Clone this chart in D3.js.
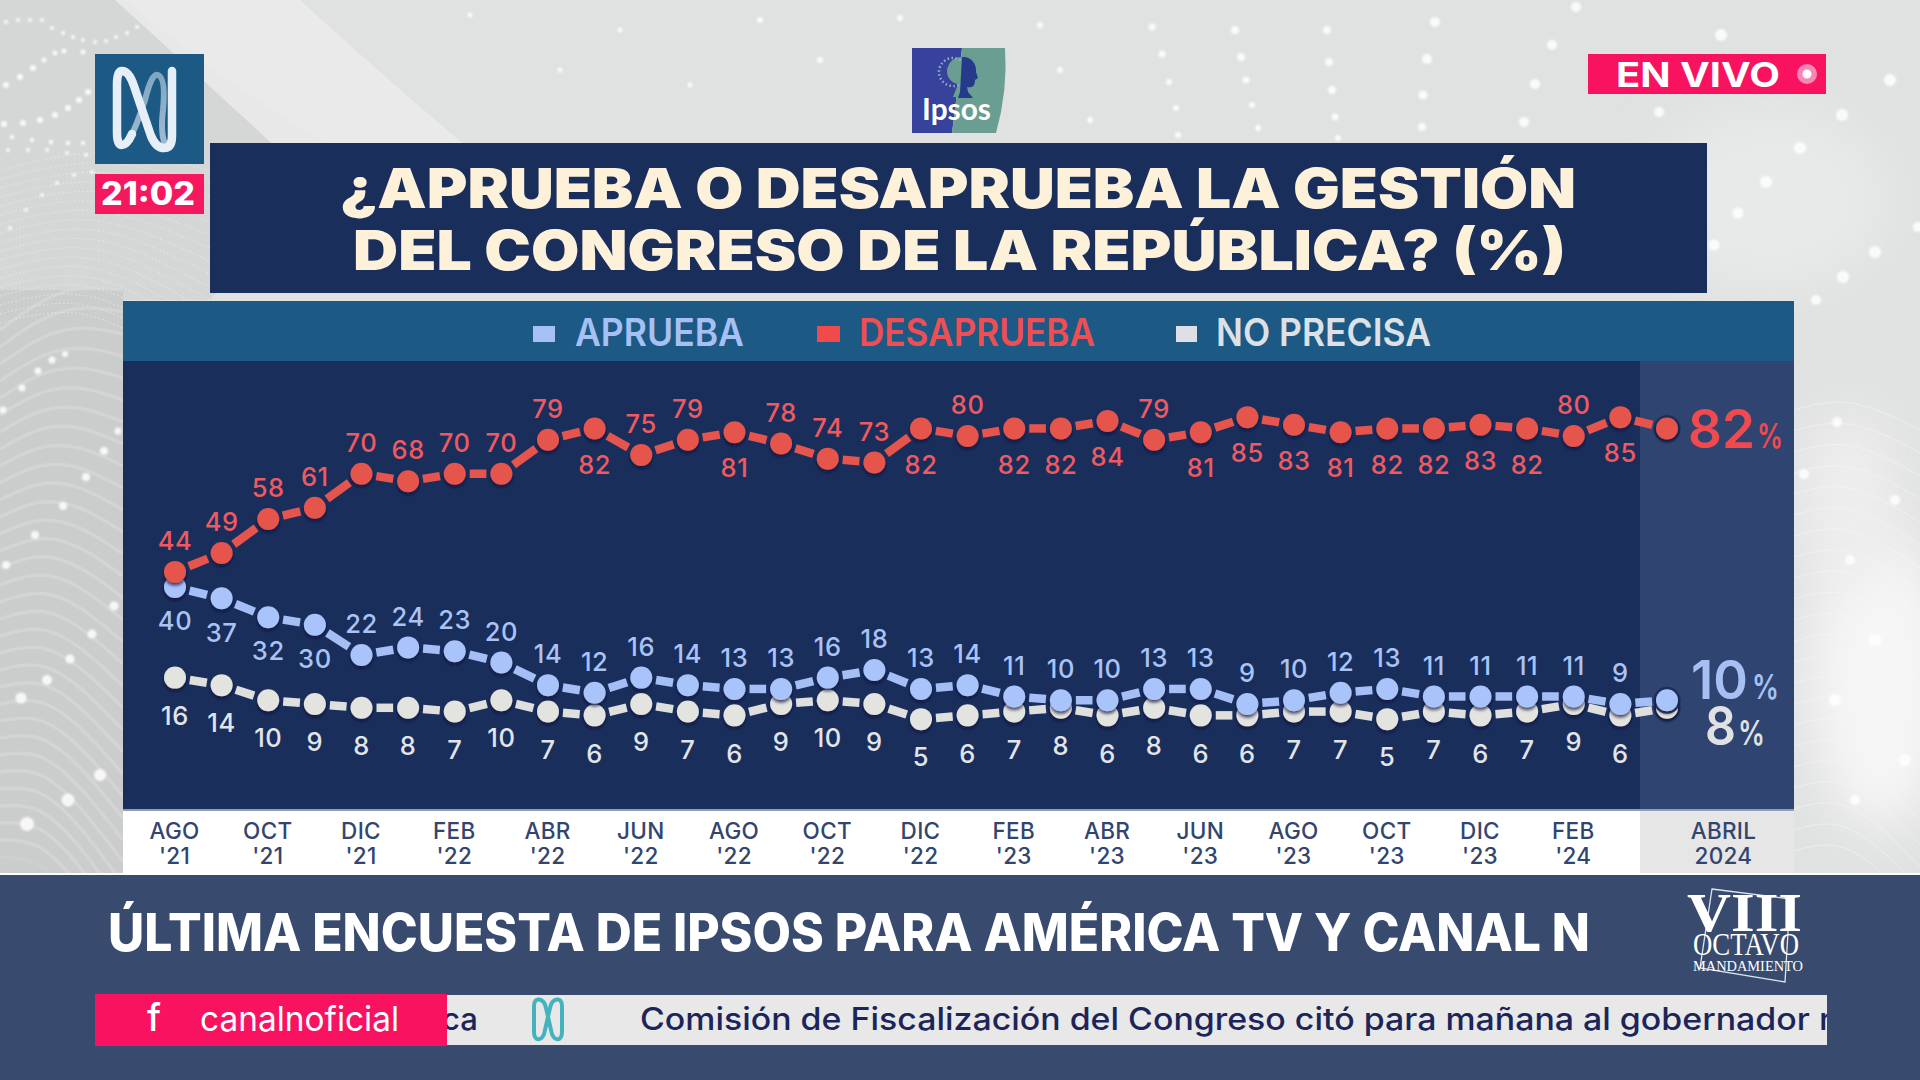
<!DOCTYPE html>
<html><head><meta charset="utf-8">
<script src="https://cdn.jsdelivr.net/npm/d3@7"></script>
<style>html,body{margin:0;padding:0;background:#e2e3e3;overflow:hidden}svg{display:block}</style>
</head><body><svg id="c" width="1920" height="1080" viewBox="0 0 1920 1080" font-family="Inter, 'Open Sans', sans-serif"></svg>
<script>
// ---- data ----
const aprueba    = [40,37,32,30,22,24,23,20,14,12,16,14,13,13,16,18,13,14,11,10,10,13,13,9,10,12,13,11,11,11,11,9,10];
const desaprueba = [44,49,58,61,70,68,70,70,79,82,75,79,81,78,74,73,82,80,82,82,84,79,81,85,83,81,82,82,83,82,80,85,82];
const noPrecisa  = [16,14,10,9,8,8,7,10,7,6,9,7,6,9,10,9,5,6,7,8,6,8,6,6,7,7,5,7,6,7,9,6,8];
const surveyIndex = d3.range(desaprueba.length);
const tickMonths = ["AGO","OCT","DIC","FEB","ABR","JUN","AGO","OCT","DIC","FEB","ABR","JUN","AGO","OCT","DIC","FEB","ABRIL"];
const tickYears  = ["'21","'21","'21","'22","'22","'22","'22","'22","'22","'23","'23","'23","'23","'23","'23","'24","2024"];
// which readings carry their label above the dot (all others go below)
const redAbove  = [0,1,2,3,4,5,6,7,8,10,11,13,14,15,17,21,30];
const blueBelow = [0,1,2,3];

const svg = d3.select("#c");
const defs = svg.append("defs");
const x = d3.scalePoint().domain(surveyIndex).range([175,1667]);
const y = d3.scaleLinear().domain([0,100]).range([738,360.5]);

const rect=(g,a,b,c,d,f)=>g.append("rect").attr("x",a).attr("y",b).attr("width",c-a).attr("height",d-b).attr("fill",f);
const fit=(g,s,a,b,base,size,weight,fill,fam)=>{
  const t=g.append("text").attr("x",a).attr("y",base).attr("font-size",size).attr("font-weight",weight).attr("fill",fill)
   .attr("textLength",b-a).attr("lengthAdjust","spacingAndGlyphs").text(s);
  if(fam) t.attr("font-family",fam);
  return t;
};

// ---- background decoration ----
const bg = svg.append("g");
const blur=defs.append("filter").attr("id","bl").attr("x","-60%").attr("y","-60%").attr("width","220%").attr("height","220%");
blur.append("feGaussianBlur").attr("stdDeviation",1.1);
const blur2=defs.append("filter").attr("id","bl2").attr("x","-60%").attr("y","-60%").attr("width","220%").attr("height","220%");
blur2.append("feGaussianBlur").attr("stdDeviation",26);
rect(bg,0,0,1920,1080,"#e0e1e1");
bg.append("path").attr("d","M0,0 L125,0 Q260,110 340,150 L210,300 L123,300 L123,875 L0,875Z").attr("fill","#d5d6d6");
bg.append("path").attr("d","M0,290 L123,290 L123,875 L0,875Z").attr("fill","#cbcdcc");
bg.append("path").attr("d","M115,0 L300,0 Q430,120 640,290 L430,290 Q280,150 115,0Z").attr("fill","#ececec").attr("opacity",.8);
bg.append("ellipse").attr("cx",1880).attr("cy",680).attr("rx",70).attr("ry",150).attr("fill","#f6f6f6").attr("filter","url(#bl2)");
bg.append("ellipse").attr("cx",1850).attr("cy",500).attr("rx",50).attr("ry",90).attr("fill","#eeeeee").attr("filter","url(#bl2)");
bg.append("ellipse").attr("cx",1770).attr("cy",200).attr("rx",120).attr("ry",90).attr("fill","#e8e9e9").attr("filter","url(#bl2)");
const wave=d3.line().curve(d3.curveBasis);
// broad stripes, lower left
d3.range(0,42).forEach(i=>{
  bg.append("path").attr("d",wave([[0,330+i*17],[40,300+i*18],[80,285+i*20],[123,290+i*22]]))
    .attr("fill","none").attr("stroke","#d5d7d6").attr("stroke-width",3.5).attr("opacity",i>30?.35:.7);
});
// fine dotted wave lines, upper left
d3.range(0,18).forEach(i=>{
  bg.append("path").attr("d",wave([[0,170+i*9],[60,155+i*9],[120,150+i*10],[210,170+i*13]]))
    .attr("fill","none").attr("stroke","#f0f0f0").attr("stroke-width",1.1).attr("stroke-dasharray","1.5 2.5").attr("opacity",.6);
});
d3.range(0,22).forEach(i=>{
  bg.append("path").attr("d",wave([[1794,410+i*21],[1850,395+i*21],[1920,430+i*23]]))
    .attr("fill","none").attr("stroke","#f6f6f6").attr("stroke-width",1).attr("opacity",.55);
});
// soft dots
const softDots=[[3,410,3.5],[22,388,3.5],[38,371,3.5],[52,360,3.5],[65,354,3],[6,565,4],[35,535,4],[63,506,4],[86,477,4],[104,451,4],[118,431,3.5],
 [21,698,5.5],[47,680,5],[70,659,4.5],[92,634,4.5],[114,606,4.5],[27,824,7],[68,800,6.5],[100,775,6],
 [6,85,3],[20,77,3],[33,68,3],[44,60,2.5],[55,53,2.5],[64,51,2.5],[83,52,2.5],[4,124,3],[23,123,3],[40,120,3],[55,115,3],[68,108,3],[79,100,3],[88,92,3],
 [6,22,2],[18,20,2],[30,20,2],[42,20,2],[52,28,2],[63,33,2],[73,37,2],[83,40,2],[95,42,2],[106,41,2],[116,37,2],[127,33,2],[137,27,2],
 [12,137,2.2],[32,140,2.2],[51,142,2.2],[68,143,2.2],[83,143,2.2],[8,150,2],[28,150,2],[47,150,2],[67,153,2],[86,155,2],
 [10,228,2],[26,210,2],[42,195,2],[57,183,2],[74,175,2],[92,172,2],
 [1152,27,3.5],[1235,30,4],[1327,30,4],[1435,22,5],[1576,7,5],[1721,35,6],[1552,45,5],[1427,59,5],[1329,62,4],[1241,57,4],[1162,54,3.5],
 [1169,82,3],[1246,80,3.5],[1332,90,4],[1423,95,4.5],[1535,84,5],[1890,80,6],[1842,115,6],[1659,112,5],[1524,122,5],[1422,127,4],[1335,117,3.5],[1252,105,3],[1176,108,3],
 [1178,135,3],[1258,128,3],[1338,138,3],[1800,148,6],[1766,182,6],[1738,213,5.5],[1714,245,5.5],[1875,252,6],[1843,277,6],[1816,300,5],[1918,227,5],
 [1804,474,5],[1837,422,5],[1850,560,5],[1895,500,5],[1875,640,6],[1835,700,6],[1905,760,6],[1855,800,5],
 [470,15,2.5],[620,30,2.5],[760,20,3],[900,18,3],[1040,25,3],[560,70,2.5],[690,85,2.5],[820,60,3],[1060,70,3],[1090,120,3]];
bg.selectAll("circle.s").data(softDots).join("circle").attr("class","s").attr("cx",d=>d[0]).attr("cy",d=>d[1]).attr("r",d=>d[2])
  .attr("fill","#fff").attr("opacity",.85).attr("filter","url(#bl)");

// ---- title block ----
rect(svg,210,143,1707,293,"#1a2e5c");
const cream="#fdf1d9";
fit(svg,"¿APRUEBA O DESAPRUEBA LA GESTIÓN",340,1576,208,55,900,cream);
fit(svg,"DEL CONGRESO DE LA REPÚBLICA? (%)",353,1566,270,55,900,cream);

// ---- legend band ----
rect(svg,123,301,1794,361,"#1c5984");
rect(svg,533,326,555,342,"#a6c0f4");
fit(svg,"APRUEBA",575,744,346,38,600,"#a6c0f4");
rect(svg,817,326,840,342,"#f04a4a");
fit(svg,"DESAPRUEBA",859,1095,346,38,600,"#ee4f54");
rect(svg,1176,326,1197,342,"#dde1e6");
fit(svg,"NO PRECISA",1216,1431,346,38,600,"#dde1e6");

// ---- plot panel ----
rect(svg,123,361,1640,810,"#1a2e5c");
rect(svg,1640,361,1794,810,"#2f4470");
rect(svg,123,810,1640,874,"#ffffff");
rect(svg,1640,810,1794,874,"#e6e6e6");
rect(svg,123,809,1794,811,"#8f9db8");
rect(svg,0,873,1920,875,"#ffffff");

// x axis through d3
const axis = d3.axisBottom(x).tickValues(surveyIndex.filter(i=>i%2===0)).tickSize(0).tickPadding(0);
const gx = svg.append("g").attr("transform","translate(0,811)").call(axis);
gx.attr("font-family",null).attr("font-size",null);
gx.select(".domain").remove();
gx.selectAll(".tick").each(function(d,i){
  const sel=d3.select(this);
  sel.select("text").remove();
  const shift = i===tickMonths.length-1 ? 56 : -1;
  const t=sel.append("text").attr("text-anchor","middle").attr("fill","#33456e").attr("font-size",22.5)
    .attr("font-weight",500).attr("letter-spacing",.3);
  t.append("tspan").attr("x",shift).attr("y",27.5).text(tickMonths[i]);
  t.append("tspan").attr("x",shift).attr("y",53).text(tickYears[i]);
});

// shadow for dots
const f=defs.append("filter").attr("id","sh").attr("x","-50%").attr("y","-50%").attr("width","200%").attr("height","200%");
f.append("feDropShadow").attr("dx",0).attr("dy",2.5).attr("stdDeviation",1.6).attr("flood-color","#0b1636").attr("flood-opacity",.75);

const drawSeries=(vals,lineC,dotC)=>{
  const g=svg.append("g");
  const pts=vals.map((v,i)=>[x(i),y(v)]);
  g.selectAll("line").data(d3.pairs(pts)).join("line")
    .each(function([a,b]){
      const L=Math.hypot(b[0]-a[0],b[1]-a[1]),ux=(b[0]-a[0])/L,uy=(b[1]-a[1])/L,gap=15;
      d3.select(this).attr("x1",a[0]+ux*gap).attr("y1",a[1]+uy*gap).attr("x2",b[0]-ux*gap).attr("y2",b[1]-uy*gap);
    })
    .attr("stroke",lineC).attr("stroke-width",8.5);
  g.append("circle").attr("cx",x(vals.length-1)).attr("cy",y(vals[vals.length-1])).attr("r",13.5).attr("fill","#1a2b55").attr("opacity",.85);
  g.selectAll("circle.d").data(vals).join("circle").attr("class","d")
    .attr("cx",(d,i)=>x(i)).attr("cy",d=>y(d)).attr("r",11).attr("fill",dotC).attr("filter","url(#sh)");
};
drawSeries(noPrecisa,"#dfe0dd","#e3e3e0");
drawSeries(aprueba,"#a5bff6","#a9c3fb");
drawSeries(desaprueba,"#e5554d","#e5544b");

const drawLabels=(vals,color,off)=>{
  svg.append("g").selectAll("text").data(vals.slice(0,-1)).join("text")
    .attr("x",(d,i)=>x(i)).attr("y",(d,i)=>y(d)+off(i)).attr("dy",".36em")
    .attr("text-anchor","middle").attr("font-size",25.5).attr("font-weight",500).attr("letter-spacing",.6)
    .attr("fill",color).text(d=>d);
};
drawLabels(desaprueba,"#ef5a60",i=>redAbove.includes(i)?-31:36);
drawLabels(aprueba,"#a9c3f5",i=>blueBelow.includes(i)?34:-31);
drawLabels(noPrecisa,"#e1e5e9",()=>38);

// final readings
const finals=[
 [desaprueba,"#f04a4f",1688,1755,448,1757,1783],
 [aprueba,"#a6c0f4",1691,1748,699,1752,1779],
 [noPrecisa,"#dfe1e2",1705,1736,745,1738,1765]];
finals.forEach(([s,c,a,b,base,pa,pb])=>{
  fit(svg,String(s[s.length-1]),a,b,base,54,600,c);
  fit(svg,"%",pa,pb,base,34,600,c);
});

// ---- top furniture ----
rect(svg,95,54,204,164,"#1c5a85");
const nFade=defs.append("linearGradient").attr("id","nf").attr("x1",0).attr("y1",0).attr("x2",0).attr("y2",1);
nFade.append("stop").attr("offset",0).attr("stop-color","#b9cfe2");
nFade.append("stop").attr("offset",1).attr("stop-color","#e6eff8");
svg.append("path").attr("d","M128,142 Q136,128 145,100 Q152,72 158,75 Q166,78 163,110 Q160,135 166,146")
  .attr("fill","none").attr("stroke","url(#nf)").attr("stroke-width",6).attr("opacity",.65);
svg.append("path").attr("d","M172,71 L172,136 Q172,148 164,148 Q156,148 151,136 L134,86 Q129,71 122,71 Q117,71 117,84 L117,133 Q117,145 122,145 Q127,145 132,134")
  .attr("fill","none").attr("stroke","#e6eff8").attr("stroke-width",8.5).attr("stroke-linecap","round");
rect(svg,95,174,204,214,"#f5185f");
fit(svg,"21:02",101,195,205,32,800,"#fff");

// ipsos logo
svg.append("path").attr("d","M912,48 L962,48 Q957,95 952,133 L912,133Z").attr("fill","#36429b");
svg.append("path").attr("d","M962,48 L1005,48 Q1008,90 996,133 L952,133 Q957,95 962,48Z").attr("fill","#6b9e93");
svg.append("path").attr("d","M962,57 L962,57 A14,17 0 0 0 947,70 A13,13 0 0 0 958,84 L953,97 L962,97Z").attr("fill","#6b9e93");
svg.append("circle").attr("cx",953).attr("cy",72).attr("r",14).attr("fill","none").attr("stroke","#8fb5c0").attr("stroke-width",2.5).attr("stroke-dasharray","1.5 2.5");
svg.append("path").attr("d","M962,57 C971,56 977,64 976,72 L978,78 L975,80 C975,87 971,88 967,87 L968,92 L973,98 L958,98 L960,92Z").attr("fill","#263a8c");
fit(svg,"Ipsos",922,991,120,31,700,"#fff","Lato");

rect(svg,1588,54,1826,94,"#f9125f");
fit(svg,"EN VIVO",1616,1780,87,34,700,"#fff");
svg.append("circle").attr("cx",1807).attr("cy",74).attr("r",10).attr("fill","#f886b7");
svg.append("circle").attr("cx",1807).attr("cy",74).attr("r",4.5).attr("fill","#fff");

// ---- bottom band ----
rect(svg,0,875,1920,1080,"#384b6f");
fit(svg,"ÚLTIMA ENCUESTA DE IPSOS PARA AMÉRICA TV Y CANAL N",108,1590,951,52,800,"#fff");

rect(svg,447,995,1827,1045,"#e8e8e8");
defs.append("clipPath").attr("id","tick").append("rect").attr("x",447).attr("y",995).attr("width",1380).attr("height",50);
const tk=svg.append("g").attr("clip-path","url(#tick)");
tk.append("text").attr("x",442).attr("y",1030).attr("font-size",31).attr("font-weight",500).attr("fill","#1c2559").text("ca");
tk.append("path").attr("d","M534,1006 C534,996 544,998 546,1008 L551,1030 C553,1042 562,1042 562,1032 L562,1006 C562,996 552,998 550,1008 L545,1030 C543,1042 534,1042 534,1032Z")
  .attr("fill","none").attr("stroke","#45b3bd").attr("stroke-width",4);
tk.append("text").attr("x",640).attr("y",1030).attr("font-size",31).attr("font-weight",500).attr("fill","#1c2559")
  .attr("textLength",1192).attr("lengthAdjust","spacingAndGlyphs").text("Comisión de Fiscalización del Congreso citó para mañana al gobernador r");
rect(svg,95,994,447,1046,"#f9125f");
fit(svg,"f",147,161,1031,38,500,"#fff");
fit(svg,"canalnoficial",200,399,1031,34,400,"#fff");

// octavo mandamiento mark
const serif="'Liberation Serif', serif";
svg.append("path").attr("d","M1712,889 L1790,899 L1785,982 L1700,968Z").attr("fill","none").attr("stroke","#dfe5ee").attr("stroke-width",1.3);
fit(svg,"VIII",1687,1802,931,54,700,"#fff",serif);
fit(svg,"OCTAVO",1693,1799,955,31,400,"#fff",serif);
fit(svg,"MANDAMIENTO",1693,1803,971,15,400,"#fff",serif);
</script></body></html>
